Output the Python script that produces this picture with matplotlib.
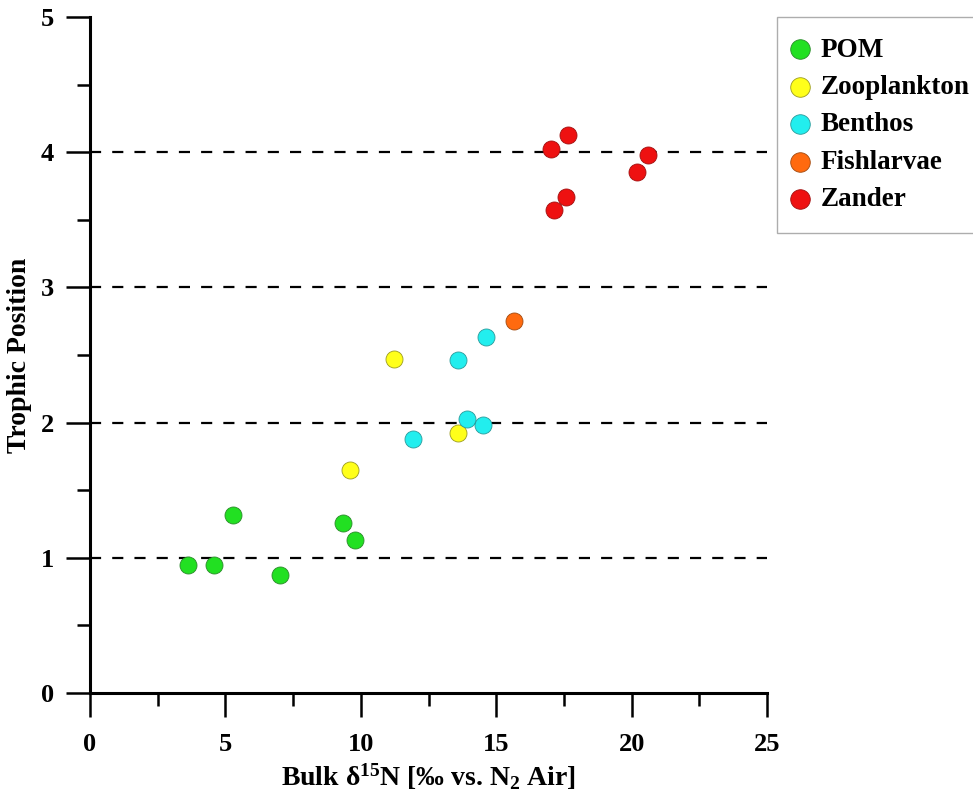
import matplotlib
matplotlib.use("Agg")
import matplotlib.pyplot as plt

plt.rcParams.update({
    "font.family": ["Liberation Serif", "DejaVu Serif"],
    "font.weight": "bold",
    "mathtext.default": "regular",
    "axes.linewidth": 2.2,
    "xtick.direction": "out",
    "ytick.direction": "out",
})

# ── data ──────────────────────────────────────────────────────────────
groups = ["POM", "Zooplankton", "Benthos", "Fishlarvae", "Zander"]
colors = ["#22e022", "#ffff1a", "#22eeee", "#ff6a0f", "#ee1111"]
edges = ["#2a8a2a", "#9a9a20", "#2a9a9a", "#a04a10", "#a01010"]

pom_x = [3.62, 4.58, 5.28, 7.02, 9.34, 9.79]
pom_y = [0.95, 0.95, 1.32, 0.87, 1.26, 1.13]

zoo_x = [11.23, 9.60, 13.59]
zoo_y = [2.47, 1.65, 1.92]

benthos_x = [13.59, 14.62, 11.93, 13.92, 14.51]
benthos_y = [2.46, 2.63, 1.88, 2.03, 1.98]

fish_x = [15.66]
fish_y = [2.75]

zander_x = [17.66, 17.04, 20.62, 20.19, 17.57, 17.15]
zander_y = [4.13, 4.02, 3.98, 3.85, 3.67, 3.57]

xs = [pom_x, zoo_x, benthos_x, fish_x, zander_x]
ys = [pom_y, zoo_y, benthos_y, fish_y, zander_y]

fig = plt.figure(figsize=(9.73, 7.94), dpi=100)
ax = fig.add_axes([0.0925, 0.1272, 0.6958, 0.8514])

for yv in [1, 2, 3, 4]:
    ax.axhline(yv, color="black", lw=1.6, ls=(0, (5, 5)), zorder=1)

for name, x, y, c, e in zip(groups, xs, ys, colors, edges):
    ax.scatter(x, y, s=150, color=c, edgecolor=e, linewidth=0.6,
               label=name, zorder=3)

ax.set_xlim(0, 25)
ax.set_ylim(0, 5)
ax.set_xticks([0, 5, 10, 15, 20, 25])
ax.set_xticks([2.5, 7.5, 12.5, 17.5, 22.5], minor=True)
ax.set_yticks([0, 1, 2, 3, 4, 5])
ax.set_yticks([0.5, 1.5, 2.5, 3.5, 4.5], minor=True)
ax.spines["top"].set_visible(False)
ax.spines["right"].set_visible(False)
ax.spines["left"].set_zorder(4)
ax.spines["bottom"].set_zorder(4)
ax.tick_params(which="major", length=17, width=1.8, labelsize=19, pad=12)
ax.tick_params(axis="y", which="major", pad=9)
ax.tick_params(which="minor", length=9.5, width=1.8)
for lab in ax.get_xticklabels() + ax.get_yticklabels():
    lab.set_fontweight("bold")

ax.set_xlabel("Bulk δ$^{15}$N [‰ vs. N$_2$ Air]", fontsize=20,
              fontweight="bold", labelpad=4)
ax.set_ylabel("Trophic Position", fontsize=20, fontweight="bold",
              labelpad=6)

leg = fig.legend(loc="upper left", bbox_to_anchor=(777 / 973, 1 - 17 / 794),
                 bbox_transform=fig.transFigure, borderaxespad=0,
                 frameon=True, fancybox=False,
                 edgecolor="#999999", handlelength=0.2,
                 handletextpad=0.66, labelspacing=0.46, borderpad=0.76,
                 markerscale=1.15, prop={"weight": "bold", "size": 19.5})
leg.get_frame().set_linewidth(1.0)

fig.savefig("out.png", dpi=100, facecolor="white")
